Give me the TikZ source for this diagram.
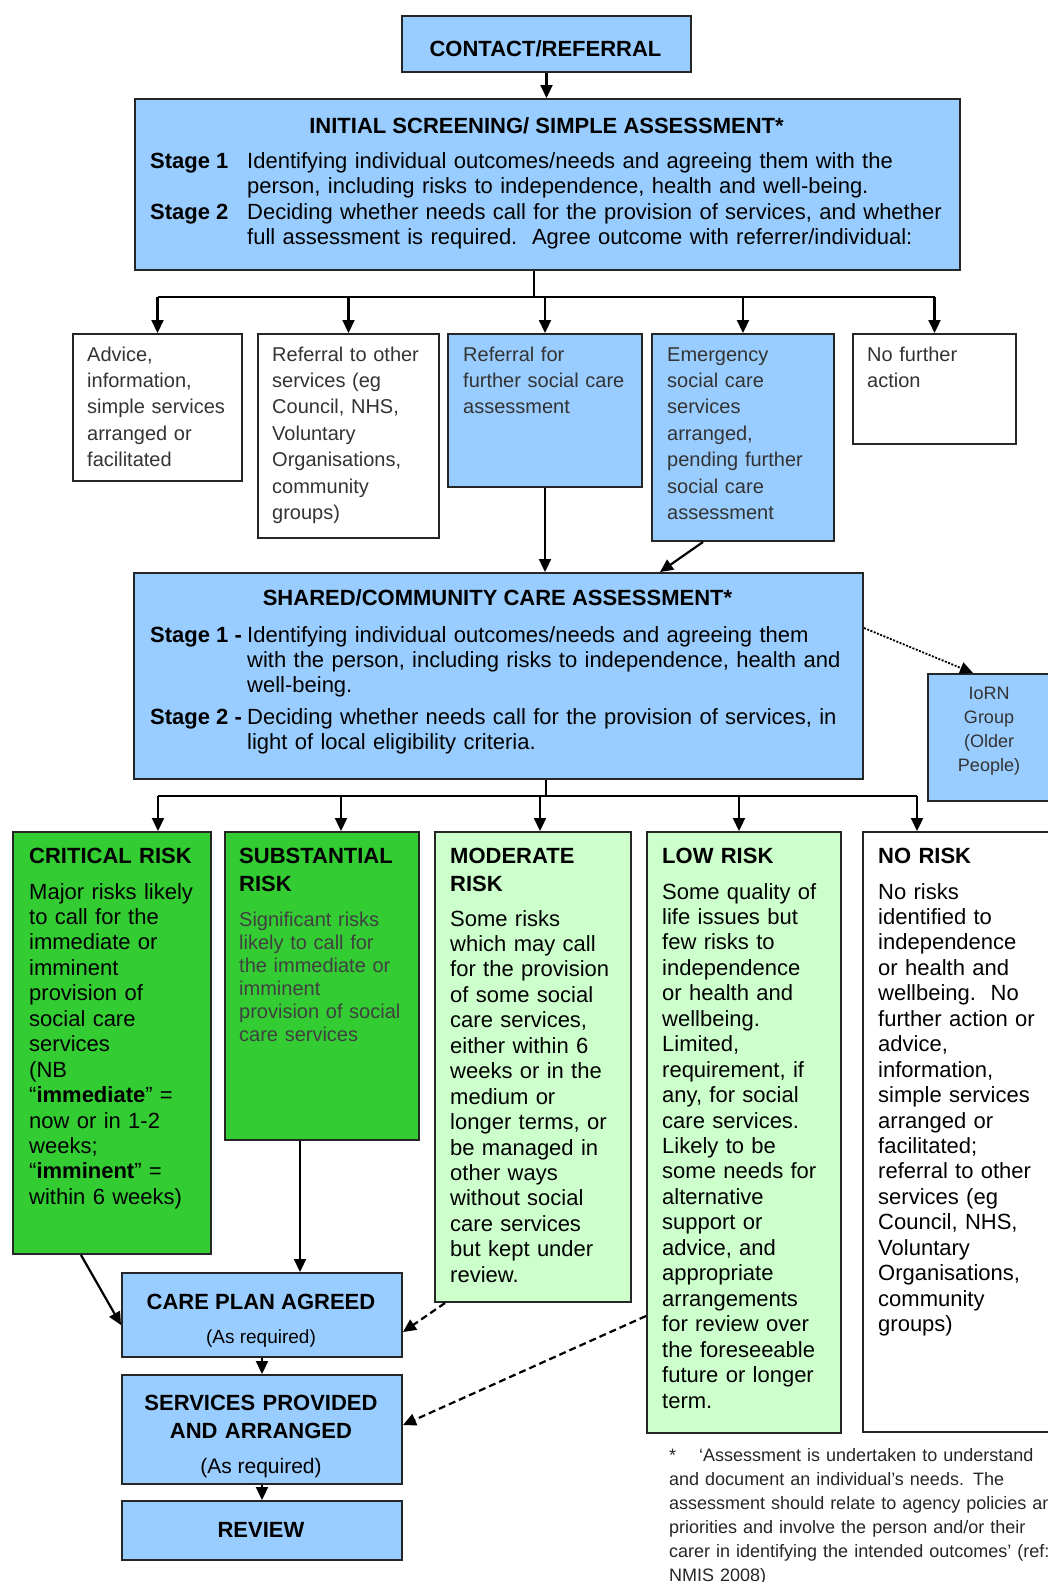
\documentclass[tikz,border=0pt]{standalone}
\usepackage{fontspec}
\setmainfont{Liberation Sans}
\usetikzlibrary{arrows.meta,calc}
\definecolor{bbox}{RGB}{153,204,255}
\definecolor{gbox}{RGB}{51,204,51}
\definecolor{lgbox}{RGB}{204,255,204}
\tikzset{
  box/.style={draw=black!85, line width=2pt, rectangle, inner sep=0pt, anchor=north west},
  ln/.style={line width=2.2pt, draw=black},
  arr/.style={line width=2.2pt, draw=black, -{Triangle[length=13pt,width=12pt]}},
  dsh/.style={arr, dash pattern=on 7pt off 4pt},
  dtt/.style={arr, line width=1.8pt, dash pattern=on 2pt off 1.5pt},
  ttl/.style={inner sep=0pt, anchor=base, font=\bfseries\fontsize{22}{28}\selectfont},
  ttlw/.style={inner sep=0pt, anchor=base west, align=left, text width=190pt, font=\bfseries\fontsize{22}{28}\selectfont},
  stg/.style={inner sep=0pt, anchor=base west, font=\bfseries\fontsize{22}{25.3}\selectfont},
  bodyA/.style={inner sep=0pt, anchor=base west, align=left, font=\fontsize{22}{25.3}\selectfont},
  bodyB/.style={inner sep=0pt, anchor=base west, align=left, font=\fontsize{20}{26.4}\selectfont, text=black!80},
  bodyC/.style={inner sep=0pt, anchor=base west, align=left, font=\fontsize{22}{25.45}\selectfont},
  bodyD/.style={inner sep=0pt, anchor=base west, align=left, font=\fontsize{20}{23}\selectfont, text=black!75},
  small/.style={inner sep=0pt, anchor=base, font=\fontsize{19}{24}\selectfont},
}
\begin{document}
\begin{tikzpicture}[x=1pt,y=-1pt]
\useasboundingbox (0,0) rectangle (1047,1582);
\fill[white] (0,0) rectangle (1047,1582);

% ---------- boxes ----------
\node[box,fill=bbox,minimum width=289pt,minimum height=56pt] (contact) at (401,15) {};
\node[box,fill=bbox,minimum width=825pt,minimum height=171pt] (init) at (134,98) {};
\node[box,fill=white,minimum width=169pt,minimum height=147pt] (advice) at (72,333) {};
\node[box,fill=white,minimum width=181pt,minimum height=204pt] (refother) at (257,333) {};
\node[box,fill=bbox,minimum width=194pt,minimum height=153pt] (reffor) at (447,333) {};
\node[box,fill=bbox,minimum width=182pt,minimum height=207pt] (emerg) at (651,333) {};
\node[box,fill=white,minimum width=163pt,minimum height=110pt] (nofurther) at (852,333) {};
\node[box,fill=bbox,minimum width=729pt,minimum height=206pt] (shared) at (133,572) {};
\node[box,fill=bbox,minimum width=124pt,minimum height=127pt] (iorn) at (927,673) {};
\node[box,fill=gbox,minimum width=198pt,minimum height=422pt] (critical) at (12,831) {};
\node[box,fill=gbox,minimum width=194pt,minimum height=308pt] (subst) at (224,831) {};
\node[box,fill=lgbox,minimum width=196pt,minimum height=470pt] (moderate) at (434,831) {};
\node[box,fill=lgbox,minimum width=194pt,minimum height=601pt] (low) at (646,831) {};
\node[box,fill=white,minimum width=194pt,minimum height=600pt] (norisk) at (862,831) {};
\node[box,fill=bbox,minimum width=280pt,minimum height=84pt] (careplan) at (121,1272) {};
\node[box,fill=bbox,minimum width=280pt,minimum height=109pt] (services) at (121,1374) {};
\node[box,fill=bbox,minimum width=280pt,minimum height=59pt] (review) at (121,1500) {};

% ---------- texts ----------
\node[ttl] (contactt) at (545.5,56) {CONTACT/REFERRAL};

\node[ttl] (initt) at (546.5,133) {INITIAL SCREENING/ SIMPLE ASSESSMENT*};
\node[stg] (inits1) at (150,168) {Stage 1};
\node[bodyA,text width=770pt] (initb1) at (247,168) {Identifying individual outcomes/needs and agreeing them with the\\person, including risks to independence, health and well-being.};
\node[stg] (inits2) at (150,219) {Stage 2};
\node[bodyA,text width=770pt] (initb2) at (247,219) {Deciding whether needs call for the provision of services, and whether\\full assessment is required.\ \ Agree outcome with referrer/individual:};

\node[bodyB,text width=200pt] (advicet) at (87,361) {Advice,\\information,\\simple services\\arranged or\\facilitated};
\node[bodyB,text width=200pt] (refothert) at (272,361) {Referral to other\\services (eg\\Council, NHS,\\Voluntary\\Organisations,\\community\\groups)};
\node[bodyB,text width=200pt] (reffort) at (463,361) {Referral for\\further social care\\assessment};
\node[bodyB,text width=200pt] (emergt) at (667,361) {Emergency\\social care\\services\\arranged,\\pending further\\social care\\assessment};
\node[bodyB,text width=200pt] (nofurthert) at (867,361) {No further\\action};

\node[ttl] (sharedt) at (497.5,605) {SHARED/COMMUNITY CARE ASSESSMENT*};
\node[stg] (shareds1) at (150,642) {Stage 1 -};
\node[bodyA,text width=700pt,font=\fontsize{22}{25}\selectfont] (sharedb1) at (247,642) {Identifying individual outcomes/needs and agreeing them\\with the person, including risks to independence, health and\\well-being.};
\node[stg] (shareds2) at (150,724) {Stage 2 -};
\node[bodyA,text width=700pt,font=\fontsize{22}{25}\selectfont] (sharedb2) at (247,724) {Deciding whether needs call for the provision of services, in\\light of local eligibility criteria.};

\node[inner sep=0pt,anchor=base,align=center,text width=120pt,font=\fontsize{18}{24}\selectfont,text=black!80] (iornt) at (989,699) {IoRN\\Group\\(Older\\People)};

\node[ttlw] (critt) at (29,863) {CRITICAL RISK};
\node[bodyC,text width=200pt] (critb) at (29,899) {Major risks likely\\to call for the\\immediate or\\imminent\\provision of\\social care\\services\\(NB\\“\textbf{immediate}” =\\now or in 1-2\\weeks;\\“\textbf{imminent}” =\\within 6 weeks)};
\node[ttlw] (subtt) at (239,863) {SUBSTANTIAL\\RISK};
\node[bodyD,text width=200pt] (subtb) at (239,926) {Significant risks\\likely to call for\\the immediate or\\imminent\\provision of social\\care services};
\node[ttlw] (modt) at (450,863) {MODERATE\\RISK};
\node[bodyC,text width=200pt] (modb) at (450,926) {Some risks\\which may call\\for the provision\\of some social\\care services,\\either within 6\\weeks or in the\\medium or\\longer terms, or\\be managed in\\other ways\\without social\\care services\\but kept under\\review.};
\node[ttlw] (lowt) at (662,863) {LOW RISK};
\node[bodyC,text width=200pt] (lowb) at (662,899) {Some quality of\\life issues but\\few risks to\\independence\\or health and\\wellbeing.\\Limited,\\requirement, if\\any, for social\\care services.\\Likely to be\\some needs for\\alternative\\support or\\advice, and\\appropriate\\arrangements\\for review over\\the foreseeable\\future or longer\\term.};
\node[ttlw] (norit) at (878,863) {NO RISK};
\node[bodyC,text width=200pt] (norib) at (878,899) {No risks\\identified to\\independence\\or health and\\wellbeing.\ \ No\\further action or\\advice,\\information,\\simple services\\arranged or\\facilitated;\\referral to other\\services (eg\\Council, NHS,\\Voluntary\\Organisations,\\community\\groups)};

\node[ttl] (carept) at (261,1309) {CARE PLAN AGREED};
\node[small] (carepr) at (261,1343) {(As required)};
\node[ttl,align=center,text width=280pt,font=\bfseries\fontsize{22}{28}\selectfont] (servt) at (261,1410) {SERVICES PROVIDED\\AND ARRANGED};
\node[small,font=\fontsize{21}{24}\selectfont] (servr) at (261,1473) {(As required)};
\node[ttl] (reviewt) at (261,1537) {REVIEW};

\node[inner sep=0pt,anchor=base west,align=left,text width=420pt,font=\fontsize{18}{24.1}\selectfont,text=black!85] (foot) at (669,1461) {*\hspace{23pt}‘Assessment is undertaken to understand\\and document an individual’s needs. The\\assessment should relate to agency policies and\\priorities and involve the person and/or their\\carer in identifying the intended outcomes’ (ref:\\NMIS 2008)};

% ---------- connectors ----------
\draw[arr] (contact.south) -- (contact.south |- init.north);

\coordinate (j1) at (534,297);
\draw[ln] (init.south -| j1) -- (j1);
\draw[ln] (advice.north |- j1) -- (nofurther.north |- j1);
\foreach \n in {advice,refother,reffor,emerg,nofurther}
  \draw[arr] (\n.north |- j1) -- (\n.north);

\draw[arr] (reffor.south) -- (reffor.south |- shared.north);
\draw[arr] ($(emerg.south west)+(52,0)$) -- ($(shared.north west)+(527,0)$);
\draw[dtt] ($(shared.north east)+(0,56)$) -- ($(iorn.north west)+(46,0)$);

\coordinate (j2) at (546,796);
\coordinate (d1) at (158,796);
\coordinate (d2) at (341,796);
\coordinate (d3) at (540,796);
\coordinate (d4) at (739,796);
\coordinate (d5) at (917,796);
\draw[ln] (j2 |- shared.south) -- (j2);
\draw[ln] (d1) -- (d5);
\draw[arr] (d1) -- (d1 |- critical.north);
\draw[arr] (d2) -- (d2 |- subst.north);
\draw[arr] (d3) -- (d3 |- moderate.north);
\draw[arr] (d4) -- (d4 |- low.north);
\draw[arr] (d5) -- (d5 |- norisk.north);

\draw[arr] ($(critical.south west)+(69,0)$) -- ($(careplan.north west)+(0,53)$);
\coordinate (sb) at ($(subst.south west)+(76,0)$);
\draw[arr] (sb) -- (sb |- careplan.north);
\draw[dsh] ($(moderate.south west)+(11,0)$) -- ($(careplan.north east)+(0,60)$);
\draw[dsh] ($(low.north west)+(0,485)$) -- ($(services.north east)+(0,51)$);
\draw[arr] (careplan.south) -- (services.north);
\draw[arr] (services.south) -- (review.north);
\end{tikzpicture}
\end{document}
